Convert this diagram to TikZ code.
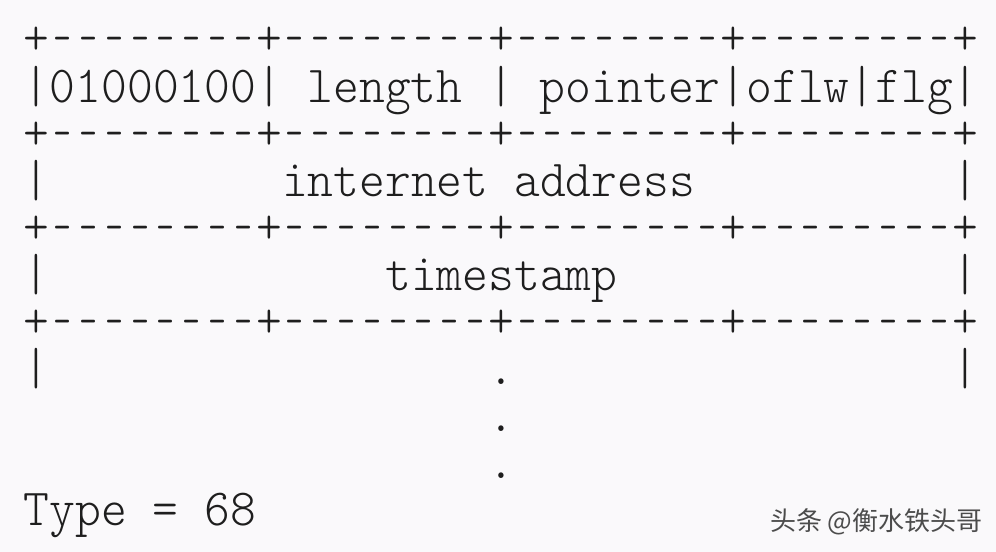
\documentclass[tikz,border=0pt]{standalone}
\usepackage{fontspec}
\newfontfamily\asciifont{lmmonolt10-regular.otf}[FakeStretch=0.945]
\newfontfamily\cjkfont{Noto Sans CJK SC}
\definecolor{paper}{RGB}{250,249,251}
\definecolor{ink}{RGB}{30,30,30}
% a dash that keeps its cell width but leaves a gap to the next one
\newcommand\shortdash{\hbox to \fontcharwd\font`-{\hss\scalebox{0.7}[1]{-}\hss}}
\newcommand\dashrun{\shortdash\shortdash\shortdash\shortdash\shortdash\shortdash\shortdash\shortdash}
\begin{document}
\begin{tikzpicture}[
		x=12.9pt,
		y=-23.5pt,
		font=\asciifont\fontsize{26}{30}\selectfont
	]
	\tikzset{
		asciirow/.style = {anchor=base west, inner sep=0pt, outer sep=0pt, text=ink},
		watermark/.style = {anchor=base west, inner sep=0pt, text=black!70, font=\cjkfont\fontsize{13}{15}\selectfont},
	}
		\fill[paper] (-0.93,-1.17) rectangle (37.67,10.57);
		\useasboundingbox (-0.93,-1.17) rectangle (37.67,10.57);
		%
		\foreach \r in {0,2,4,6}
			\node[asciirow] at (0,\r) (border\r) {+\dashrun+\dashrun+\dashrun+\dashrun+};
		%
		\node[asciirow] at (0,1) (header) {|01000100| length | pointer|oflw|flg|};
		%
		\node[asciirow] at (0,3) (addrl) {|};
		\node[asciirow] at (10,3) (addr) {internet address};
		\node[asciirow] at (36,3) (addrr) {|};
		%
		\node[asciirow] at (0,5) (timel) {|};
		\node[asciirow] at (14,5) (time) {timestamp};
		\node[asciirow] at (36,5) (timer) {|};
		%
		\node[asciirow] at (0,7) (morel) {|};
		\node[asciirow] at (36,7) (morer) {|};
		\foreach \r in {7,8,9}
			\node[asciirow] at (18,\r) (dot\r) {.};
		%
		\node[asciirow] at (0,10) (type) {Type = 68};
		%
		\node[watermark] at (28.9,10.12) (credit) {头条 @衡水铁头哥};
	\end{tikzpicture}
\end{document}
